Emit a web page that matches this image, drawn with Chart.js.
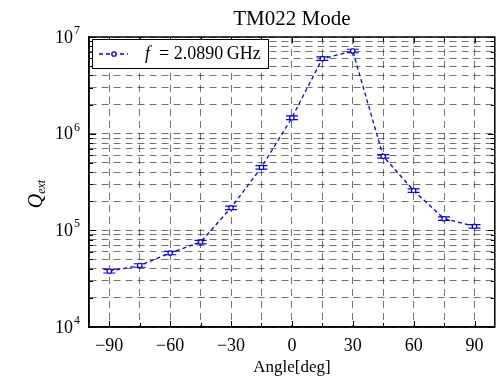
<!DOCTYPE html>
<html lang="en">
<head>
    <meta charset="UTF-8">
    <title>TM022 Mode</title>
    <script src="https://cdn.jsdelivr.net/npm/chart.js"></script>
    <style>
        html, body {
            margin: 0;
            padding: 0;
            background: #fff;
        }
        #wrap {
            width: 500px;
            height: 379px;
        }
    </style>
</head>
<body>
    <div id="wrap"><canvas id="qChart"></canvas></div>

    <script>
        // values
        const angles = [-90, -75, -60, -45, -30, -15, 0, 15, 30, 45, 60, 75, 90];
        const qext = [3.78e4, 4.33e4, 5.83e4, 7.57e4, 1.71e5, 4.49e5, 1.46e6, 5.97e6, 7.17e6, 5.83e5, 2.58e5, 1.32e5, 1.10e5];
        const qerr = [1.6e3, 1.8e3, 2.4e3, 3.1e3, 7.0e3, 1.9e4, 6.5e4, 2.5e5, 3.0e5, 2.5e4, 1.1e4, 5.5e3, 4.5e3];
        const xTickLabels = [-90, -60, -30, 0, 30, 60, 90];
        const yDecades = [4, 5, 6, 7];

        const serif = "'Liberation Serif', 'DejaVu Serif', serif";
        const blue = '#0000ff';

        // minor grid every 15 deg, log minor grid 1..9 per decade
        const xGrid = [];
        for (let v = -90; v <= 90; v += 15) xGrid.push(v);
        const yGrid = [];
        yDecades.forEach(d => {
            for (let k = 1; k <= 9; k++) {
                if (d === yDecades[yDecades.length - 1] && k > 1) break;
                yGrid.push(k * Math.pow(10, d));
            }
        });

        function minusSign(v) {
            return v < 0 ? '\u2212' + Math.abs(v) : String(v);
        }

        const decorPlugin = {
            id: 'decor',
            beforeDatasetsDraw(chart) {
                // error bars
                const ctx = chart.ctx;
                const xs = chart.scales.x, ys = chart.scales.y;
                ctx.save();
                ctx.strokeStyle = blue;
                ctx.lineWidth = 1.2;
                angles.forEach((a, i) => {
                    const px = xs.getPixelForValue(a);
                    const top = ys.getPixelForValue(qext[i] + qerr[i]);
                    const bot = ys.getPixelForValue(qext[i] - qerr[i]);
                    ctx.beginPath();
                    ctx.moveTo(px, top);
                    ctx.lineTo(px, bot);
                    ctx.moveTo(px - 6, top);
                    ctx.lineTo(px + 6, top);
                    ctx.moveTo(px - 6, bot);
                    ctx.lineTo(px + 6, bot);
                    ctx.stroke();
                });
                ctx.restore();
            },
            afterDraw(chart) {
                const ctx = chart.ctx;
                const area = chart.chartArea;
                const xs = chart.scales.x, ys = chart.scales.y;
                ctx.save();

                // frame
                ctx.strokeStyle = '#000';
                ctx.lineWidth = 1.5;
                ctx.strokeRect(area.left, area.top, area.right - area.left, area.bottom - area.top);

                // inward ticks
                ctx.lineWidth = 1;
                ctx.beginPath();
                xGrid.forEach(v => {
                    const px = Math.round(xs.getPixelForValue(v)) + 0.5;
                    const len = v % 30 === 0 ? 6 : 4;
                    ctx.moveTo(px, area.bottom);
                    ctx.lineTo(px, area.bottom - len);
                    ctx.moveTo(px, area.top);
                    ctx.lineTo(px, area.top + len);
                });
                yGrid.forEach(v => {
                    const py = Math.round(ys.getPixelForValue(v)) + 0.5;
                    const major = Math.abs(Math.log10(v) - Math.round(Math.log10(v))) < 1e-9;
                    const len = major ? 7 : 4;
                    ctx.moveTo(area.left, py);
                    ctx.lineTo(area.left + len, py);
                    ctx.moveTo(area.right, py);
                    ctx.lineTo(area.right - len, py);
                });
                ctx.stroke();

                // y tick labels 10^n
                ctx.fillStyle = '#000';
                ctx.textBaseline = 'middle';
                ctx.textAlign = 'right';
                yDecades.forEach(d => {
                    const py = ys.getPixelForValue(Math.pow(10, d));
                    ctx.font = '12px ' + serif;
                    const ew = ctx.measureText(String(d)).width;
                    ctx.fillText(String(d), 80, py - 6);
                    ctx.font = '18px ' + serif;
                    ctx.fillText('10', 80 - ew - 1, py + 1);
                });

                // title
                ctx.textAlign = 'center';
                ctx.font = '21px ' + serif;
                ctx.fillText('TM022 Mode', (area.left + area.right) / 2, 19);

                // y axis label Q_ext
                ctx.save();
                ctx.translate(36, 196);
                ctx.rotate(-Math.PI / 2);
                ctx.textAlign = 'left';
                ctx.textBaseline = 'alphabetic';
                ctx.font = 'italic 20px ' + serif;
                const qw = ctx.measureText('Q').width;
                ctx.fillText('Q', -qw / 2 - 5, 6);
                ctx.font = 'italic 12px ' + serif;
                ctx.fillText('ext', qw / 2 - 5, 9);
                ctx.restore();

                // legend
                const lx = 92.5, ly = 39.5, lw = 176, lh = 29;
                ctx.fillStyle = '#fff';
                ctx.fillRect(lx, ly, lw, lh);
                ctx.strokeStyle = '#000';
                ctx.lineWidth = 1;
                ctx.strokeRect(lx, ly, lw, lh);
                const my = ly + lh / 2;
                ctx.strokeStyle = blue;
                ctx.lineWidth = 1.3;
                ctx.setLineDash([4, 3]);
                ctx.beginPath();
                ctx.moveTo(99, my);
                ctx.lineTo(128, my);
                ctx.stroke();
                ctx.setLineDash([]);
                ctx.beginPath();
                ctx.arc(114, my, 2.2, 0, Math.PI * 2);
                ctx.fillStyle = '#fff';
                ctx.fill();
                ctx.stroke();
                ctx.fillStyle = '#000';
                ctx.textAlign = 'left';
                ctx.textBaseline = 'middle';
                ctx.font = 'italic 18px ' + serif;
                ctx.fillText('f', 145, my);
                ctx.font = '18px ' + serif;
                ctx.fillText('= 2.0890\u2009GHz', 159, my);

                ctx.restore();
            }
        };

        const ctx = document.getElementById('qChart').getContext('2d');
        new Chart(ctx, {
            type: 'line',
            data: {
                datasets: [{
                    label: 'f = 2.0890 GHz',
                    data: angles.map((a, i) => ({ x: a, y: qext[i] })),
                    borderColor: blue,
                    borderWidth: 1.3,
                    borderDash: [4, 3],
                    pointRadius: 2.2,
                    pointBorderWidth: 1.2,
                    pointBorderColor: blue,
                    pointBackgroundColor: '#fff',
                    fill: false,
                    tension: 0
                }]
            },
            options: {
                responsive: true,
                maintainAspectRatio: false,
                animation: false,
                layout: { padding: { top: 37, right: 1, left: 0, bottom: 0 } },
                plugins: {
                    legend: { display: false },
                    title: { display: false },
                    tooltip: { enabled: false }
                },
                scales: {
                    x: {
                        type: 'linear',
                        min: -100,
                        max: 100,
                        afterBuildTicks: s => { s.ticks = xGrid.map(v => ({ value: v })); },
                        afterFit: s => { s.height = 52; },
                        ticks: {
                            autoSkip: false,
                            maxRotation: 0,
                            padding: 8,
                            color: '#000',
                            font: { family: serif, size: 18 },
                            callback: v => xTickLabels.includes(v) ? minusSign(v) : ''
                        },
                        grid: {
                            color: 'rgba(0,0,0,0.55)',
                            lineWidth: 1,
                            drawTicks: false
                        },
                        border: { display: true, color: '#000', width: 1.5, dash: [7, 5] },
                        title: {
                            display: true,
                            text: 'Angle[deg]',
                            color: '#000',
                            font: { family: serif, size: 17 },
                            padding: { top: 0, bottom: 1 }
                        }
                    },
                    y: {
                        type: 'logarithmic',
                        min: 1e4,
                        max: 1e7,
                        afterBuildTicks: s => { s.ticks = yGrid.map(v => ({ value: v })); },
                        afterFit: s => { s.width = 89; },
                        ticks: { display: false },
                        grid: {
                            color: 'rgba(0,0,0,0.55)',
                            lineWidth: 1,
                            drawTicks: false
                        },
                        border: { display: true, color: '#000', width: 1.5, dash: [7, 5] }
                    }
                }
            },
            plugins: [decorPlugin]
        });
    </script>
</body>
</html>
